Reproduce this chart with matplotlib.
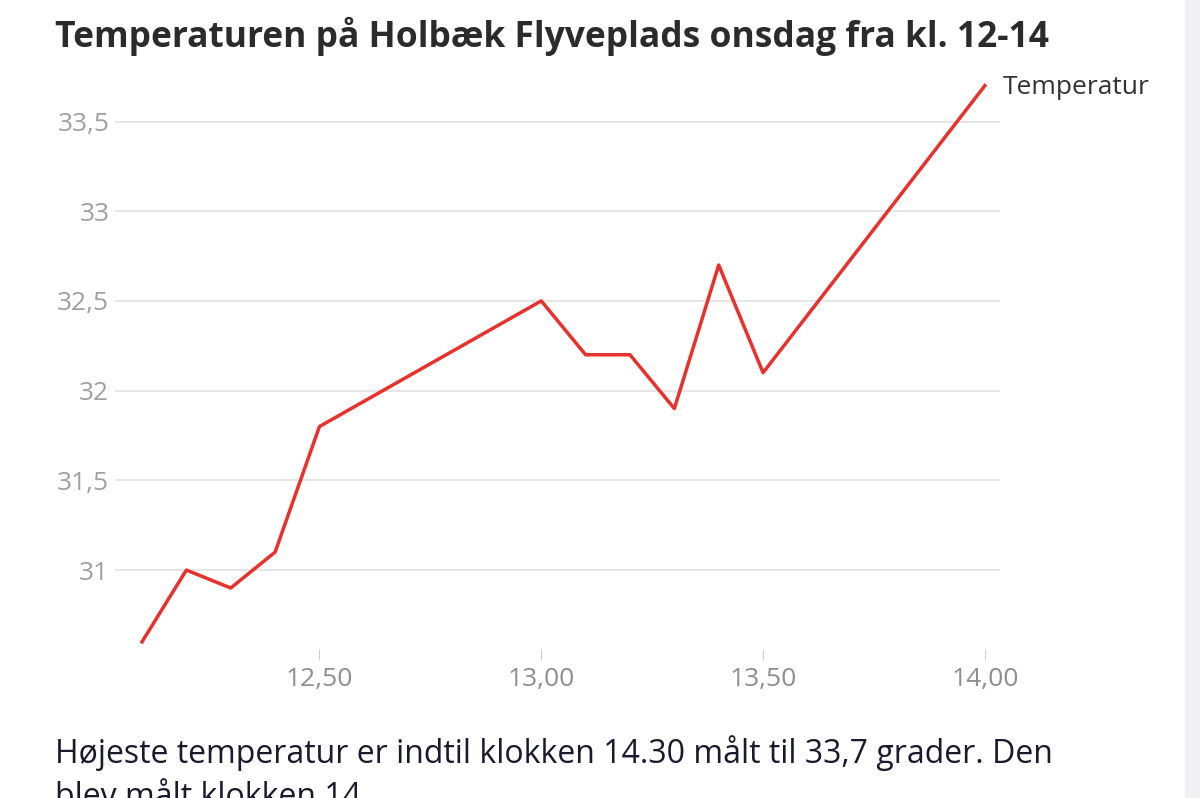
import matplotlib.pyplot as plt
from matplotlib.patches import Rectangle

times = [12.1, 12.2, 12.3, 12.4, 12.5, 13.0, 13.1, 13.2, 13.3, 13.4, 13.5, 14.0]
temps = [30.6, 31.0, 30.9, 31.1, 31.8, 32.5, 32.2, 32.2, 31.9, 32.7, 32.1, 33.7]
xticks = [12.5, 13.0, 13.5, 14.0]
yticks = [31, 31.5, 32, 32.5, 33, 33.5]

plt.rcParams['font.family'] = ['Open Sans', 'DejaVu Sans']

fig = plt.figure(figsize=(12, 7.98), dpi=100)
fig.patches.append(Rectangle((1185 / 1200, 0), 15 / 1200, 1, transform=fig.transFigure,
                             color='#f1f1f4', zorder=0))
ax = fig.add_axes([0.0958, 0.1867, 0.7375, 0.7105])
ax.plot(times, temps, color='#e8302c', lw=2.5, clip_on=False)
ax.set_xlim(12.039, 14.034)
ax.set_ylim(30.56, 33.72)
ax.set_xticks(xticks, [f"{t:.2f}".replace('.', ',') for t in xticks])
ax.set_yticks(yticks, [f"{t:g}".replace('.', ',') for t in yticks])
ax.grid(axis='y', color='#e2e2e2', lw=1.2)
ax.set_axisbelow(True)
for s in ax.spines.values():
    s.set_visible(False)
ax.tick_params(axis='x', length=8, color='#cfcfcf', labelsize=19, labelcolor='#8e8e8e', pad=5)
ax.tick_params(axis='y', length=0, labelsize=19, labelcolor='#a0a0a0', pad=4)
ax.text(14.04, 33.69, "Temperatur", fontsize=19, color='#333333', va='center', ha='left')

fig.text(55 / 1200, 1 - 36 / 798, "Temperaturen på Holbæk Flyveplads onsdag fra kl. 12-14",
         fontsize=25.5, fontweight='bold', color='#2b2b2b', va='center')
fig.text(55 / 1200, 1 - 735 / 798,
         "Højeste temperatur er indtil klokken 14.30 målt til 33,7 grader. Den\nblev målt klokken 14.",
         fontsize=23, color='#1a1a2e', va='top', linespacing=1.4)

fig.savefig("out.png", dpi=100, facecolor='white')
